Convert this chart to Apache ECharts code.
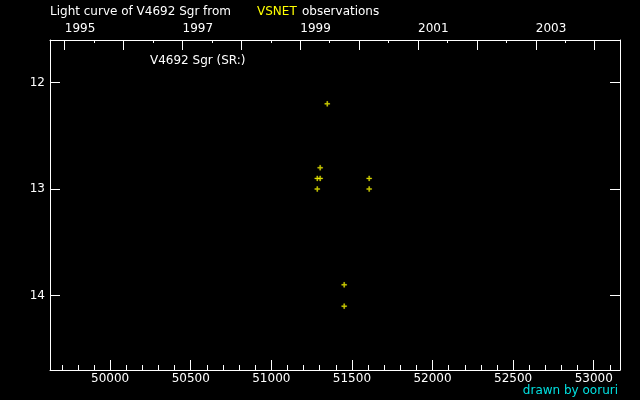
<!DOCTYPE html>
<html>
<head>
<meta charset="utf-8">
<script src="https://cdn.jsdelivr.net/npm/echarts@6/dist/echarts.min.js"></script>
<style>
html,body{margin:0;padding:0;background:#000;}
#chart{width:640px;height:400px;}
</style>
</head>
<body>
<div id="chart"></div>
<script>
// Observations (JD - 2400000, visual magnitude)
var obsJD  = [51347, 51303, 51285, 51303, 51607, 51285, 51607, 51452, 51452];
var obsMag = [12.2, 12.8, 12.9, 12.9, 12.9, 13.0, 13.0, 13.9, 14.1];

// Axis ticks / labels
var jdTicks = [50000, 50500, 51000, 51500, 52000, 52500, 53000];
var magTicks = [12, 13, 14];
var yearTicks = [1995, 1996, 1997, 1998, 1999, 2000, 2001, 2002, 2003, 2004, 2005];
var yearLabels = [1995, 1997, 1999, 2001, 2003];

var FONT = 'DejaVu Sans';
function yearToJD(y) { return Date.UTC(y, 0, 1) / 86400000 + 40587.5; }

var jdMinor = [];
for (var v = 49700; v <= 53100; v += 100) jdMinor.push(v);
var yearTickJD = yearTicks.map(yearToJD);
var halfYearJD = [];
for (var i = 0; i < yearTicks.length - 1; i++) halfYearJD.push((yearTickJD[i] + yearTickJD[i + 1]) / 2);
var yearLabelJD = yearLabels.map(yearToJD);

var X_MIN = 49627, X_MAX = 53163;
var Y_MIN = 11.6, Y_MAX = 14.7;
var white = '#ffffff';

var chart = echarts.init(document.getElementById('chart'));
var points = obsJD.map(function (d, i) { return [d, obsMag[i]]; });

chart.setOption({
  backgroundColor: '#000000',
  animation: false,
  title: [
    { text: 'Light curve of V4692 Sgr from', left: 50, top: 6, padding: 0,
      textStyle: { color: white, fontSize: 12, fontWeight: 'normal', fontFamily: FONT } },
    { text: 'VSNET', left: 257, top: 6, padding: 0,
      textStyle: { color: '#ffff00', fontSize: 12, fontWeight: 'normal', fontFamily: FONT } },
    { text: 'observations', left: 302, top: 6, padding: 0,
      textStyle: { color: white, fontSize: 12, fontWeight: 'normal', fontFamily: FONT } },
    { text: 'V4692 Sgr (SR:)', left: 150, top: 55, padding: 0,
      textStyle: { color: white, fontSize: 12, fontWeight: 'normal', fontFamily: FONT } },
    { text: 'drawn by ooruri', right: 22, top: 385, padding: 0,
      textStyle: { color: '#00e0e0', fontSize: 12, fontWeight: 'normal', fontFamily: FONT } }
  ],
  grid: { left: 50, right: 20, top: 40, bottom: 30, containLabel: false },
  xAxis: [
    { type: 'value', position: 'bottom', min: X_MIN, max: X_MAX,
      axisLine: { show: true, onZero: false, lineStyle: { color: white, width: 1 } },
      axisTick: { show: true, inside: true, length: 10, customValues: jdTicks, lineStyle: { color: white } },
      axisLabel: { show: true, customValues: jdTicks, margin: 3, color: white, fontSize: 12, fontFamily: FONT,
        formatter: function (v) { return String(v); } },
      splitLine: { show: false } },
    { type: 'value', position: 'bottom', min: X_MIN, max: X_MAX,
      axisLine: { show: false, onZero: false },
      axisTick: { show: true, inside: true, length: 5, customValues: jdMinor, lineStyle: { color: white } },
      axisLabel: { show: false },
      splitLine: { show: false } },
    { type: 'value', position: 'top', min: X_MIN, max: X_MAX,
      axisLine: { show: true, onZero: false, lineStyle: { color: white, width: 1 } },
      axisTick: { show: true, inside: true, length: 10, customValues: yearTickJD, lineStyle: { color: white } },
      axisLabel: { show: true, customValues: yearLabelJD, margin: 5, align: 'left', color: white, fontSize: 12, fontFamily: FONT,
        formatter: function (v) {
          for (var k = 0; k < yearLabelJD.length; k++) if (Math.abs(yearLabelJD[k] - v) < 1) return String(yearLabels[k]);
          return '';
        } },
      splitLine: { show: false } },
    { type: 'value', position: 'top', min: X_MIN, max: X_MAX,
      axisLine: { show: false, onZero: false },
      axisTick: { show: true, inside: true, length: 3, customValues: halfYearJD, lineStyle: { color: white } },
      axisLabel: { show: false },
      splitLine: { show: false } }
  ],
  yAxis: [
    { type: 'value', position: 'left', inverse: true, min: Y_MIN, max: Y_MAX,
      axisLine: { show: true, onZero: false, lineStyle: { color: white, width: 1 } },
      axisTick: { show: true, inside: true, length: 10, customValues: magTicks, lineStyle: { color: white } },
      axisLabel: { show: true, customValues: magTicks, margin: 5, color: white, fontSize: 12, fontFamily: FONT },
      splitLine: { show: false } },
    { type: 'value', position: 'right', inverse: true, min: Y_MIN, max: Y_MAX,
      axisLine: { show: true, onZero: false, lineStyle: { color: white, width: 1 } },
      axisTick: { show: true, inside: true, length: 10, customValues: magTicks, lineStyle: { color: white } },
      axisLabel: { show: false },
      splitLine: { show: false } }
  ],
  series: [
    { type: 'scatter', xAxisIndex: 0, yAxisIndex: 0, data: points,
      symbol: 'path://M2,0L3,0L3,2L5,2L5,3L3,3L3,5L2,5L2,3L0,3L0,2L2,2Z',
      symbolSize: 5,
      itemStyle: { color: '#ffff00', borderColor: '#ffff00', borderWidth: 0.4 } }
  ]
});
</script>
</body>
</html>
